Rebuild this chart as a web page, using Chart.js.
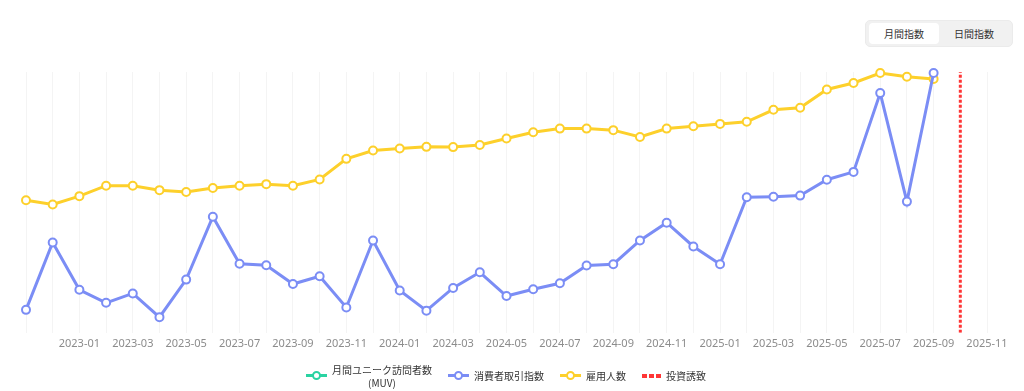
<!DOCTYPE html>
<html lang="ja">
<head>
<meta charset="utf-8">
<script src="https://cdn.jsdelivr.net/npm/chart.js@4.4.1/dist/chart.umd.min.js"></script>
<style>
  html, body { margin: 0; padding: 0; background: #fff; }
  body { width: 1024px; height: 391px; position: relative; overflow: hidden;
         font-family: "Noto Sans CJK JP", "Noto Sans", sans-serif; }
  #wrap { position: absolute; left: 0; top: 0; width: 1024px; height: 391px; }
  .toggle { position: absolute; left: 865px; top: 20px; width: 148px; height: 27px; box-sizing: border-box;
            background: #f1f1f1; border: 1px solid #ebebeb; border-radius: 5px; padding: 2px 3px; display: flex; }
  .toggle div { flex: 1; font-size: 10px; color: #333; display: flex; align-items: center; justify-content: center; border-radius: 4px; }
  .toggle .on { background: #fff; }
  #legend { position: absolute; left: 0; top: 362px; width: 1012px; height: 27px; display: flex;
            justify-content: center; align-items: center; font-size: 10px; color: #333; }
  .item { display: flex; align-items: center; margin: 0 8px; }
  .item .txt { white-space: pre-line; text-align: center; line-height: 13px; margin-left: 5px; }
  .icon { position: relative; width: 21px; height: 3px; }
  .icon i { position: absolute; left: 6px; top: -3px; width: 5px; height: 5px; border-radius: 50%; background: #fff; border: 2px solid; }
  .dash { display: flex; width: 19px; justify-content: space-between; }
  .dash b { width: 5px; height: 4px; }
</style>
</head>
<body>
<div id="wrap"><canvas id="chart" width="1024" height="391"></canvas></div>
<div class="toggle"><div class="on">月間指数</div><div>日間指数</div></div>
<div id="legend"></div>
<script>
// 月 (x軸)
const months = ['2022-11', '2022-12', '2023-01', '2023-02', '2023-03', '2023-04', '2023-05', '2023-06',
  '2023-07', '2023-08', '2023-09', '2023-10', '2023-11', '2023-12', '2024-01', '2024-02', '2024-03',
  '2024-04', '2024-05', '2024-06', '2024-07', '2024-08', '2024-09', '2024-10', '2024-11', '2024-12',
  '2025-01', '2025-02', '2025-03', '2025-04', '2025-05', '2025-06', '2025-07', '2025-08', '2025-09',
  '2025-10', '2025-11'];

const seriesNames = ['月間ユニーク訪問者数\n(MUV)', '消費者取引指数', '雇用人数', '投資誘致'];

// 2022-11 〜 2025-09
const muv = [];
const consumerIndex = [8.8, 34.6, 16.5, 11.5, 15.1, 6.0, 20.4, 44.5, 26.5, 25.9, 18.7, 21.7, 9.7, 35.4,
  16.2, 8.5, 17.2, 23.2, 14.1, 16.7, 19.0, 25.8, 26.3, 35.4, 42.2, 33.1, 26.3, 52.0, 52.2, 52.6, 58.7,
  61.7, 91.9, 50.3, 99.6];
const employees = [130.8, 129.2, 132.4, 136.4, 136.4, 134.7, 134.0, 135.5, 136.4, 137.0, 136.4, 138.8,
  146.7, 149.9, 150.7, 151.3, 151.2, 152.0, 154.5, 156.9, 158.3, 158.3, 157.7, 155.1, 158.3, 159.2,
  160.1, 160.9, 165.5, 166.3, 173.3, 175.8, 179.6, 178.2, 177.3];
const investmentMonth = '2025-10';

const colors = ['#2ad3a2', '#7b8df5', '#fdd02b', '#ff3535'];

const toPoints = arr => arr.map((v, i) => ({ x: i, y: v }));
const invX = months.indexOf(investmentMonth);

function lineSet(i, data, axis) {
    return {
        label: seriesNames[i],
        data: data,
        yAxisID: axis,
        borderColor: colors[i],
        backgroundColor: '#fff',
        borderWidth: 3,
        pointRadius: 4,
        pointBorderWidth: 2,
        pointBackgroundColor: '#fff',
        pointBorderColor: colors[i],
        tension: 0,
        clip: false
    };
}

const chart = new Chart(document.getElementById('chart'), {
    type: 'line',
    data: {
        datasets: [
            lineSet(0, toPoints(muv), 'y1'),
            lineSet(1, toPoints(consumerIndex), 'y1'),
            lineSet(2, toPoints(employees), 'y'),
            {
                label: seriesNames[3],
                data: [{ x: invX, y: 80 }, { x: invX, y: 180 }],
                yAxisID: 'y',
                borderColor: colors[3],
                borderWidth: 3,
                borderDash: [3, 2],
                pointRadius: 0,
                dash: true
            }
        ]
    },
    options: {
        responsive: false,
        animation: false,
        layout: { padding: { left: 26, right: 37, top: 72, bottom: 37 } },
        plugins: { legend: { display: false }, tooltip: { enabled: false } },
        scales: {
            x: {
                type: 'linear',
                min: 0,
                max: months.length - 1,
                grid: { color: 'rgba(0,0,0,0.045)', drawTicks: false },
                border: { display: false },
                ticks: {
                    stepSize: 1,
                    autoSkip: false,
                    maxRotation: 0,
                    padding: 4,
                    color: '#8c8c8c',
                    font: { family: "'Noto Sans', sans-serif", size: 11 },
                    callback: v => (v > 0 && v % 2 === 0) ? months[v] : ''
                }
            },
            y: { display: false, min: 80, max: 180 },
            y1: { display: false, min: 0, max: 100 }
        }
    }
});

// 凡例
const legend = document.getElementById('legend');
chart.data.datasets.forEach(ds => {
    const item = document.createElement('div');
    item.className = 'item';
    let icon;
    if (ds.dash) {
        icon = '<span class="dash"><b></b><b></b><b></b></span>';
        icon = icon.replace(/<b>/g, `<b style="background:${ds.borderColor}">`);
    } else {
        icon = `<span class="icon" style="background:${ds.borderColor}"><i style="border-color:${ds.borderColor}"></i></span>`;
    }
    item.innerHTML = icon + `<span class="txt">${ds.label}</span>`;
    legend.appendChild(item);
});
</script>
</body>
</html>
